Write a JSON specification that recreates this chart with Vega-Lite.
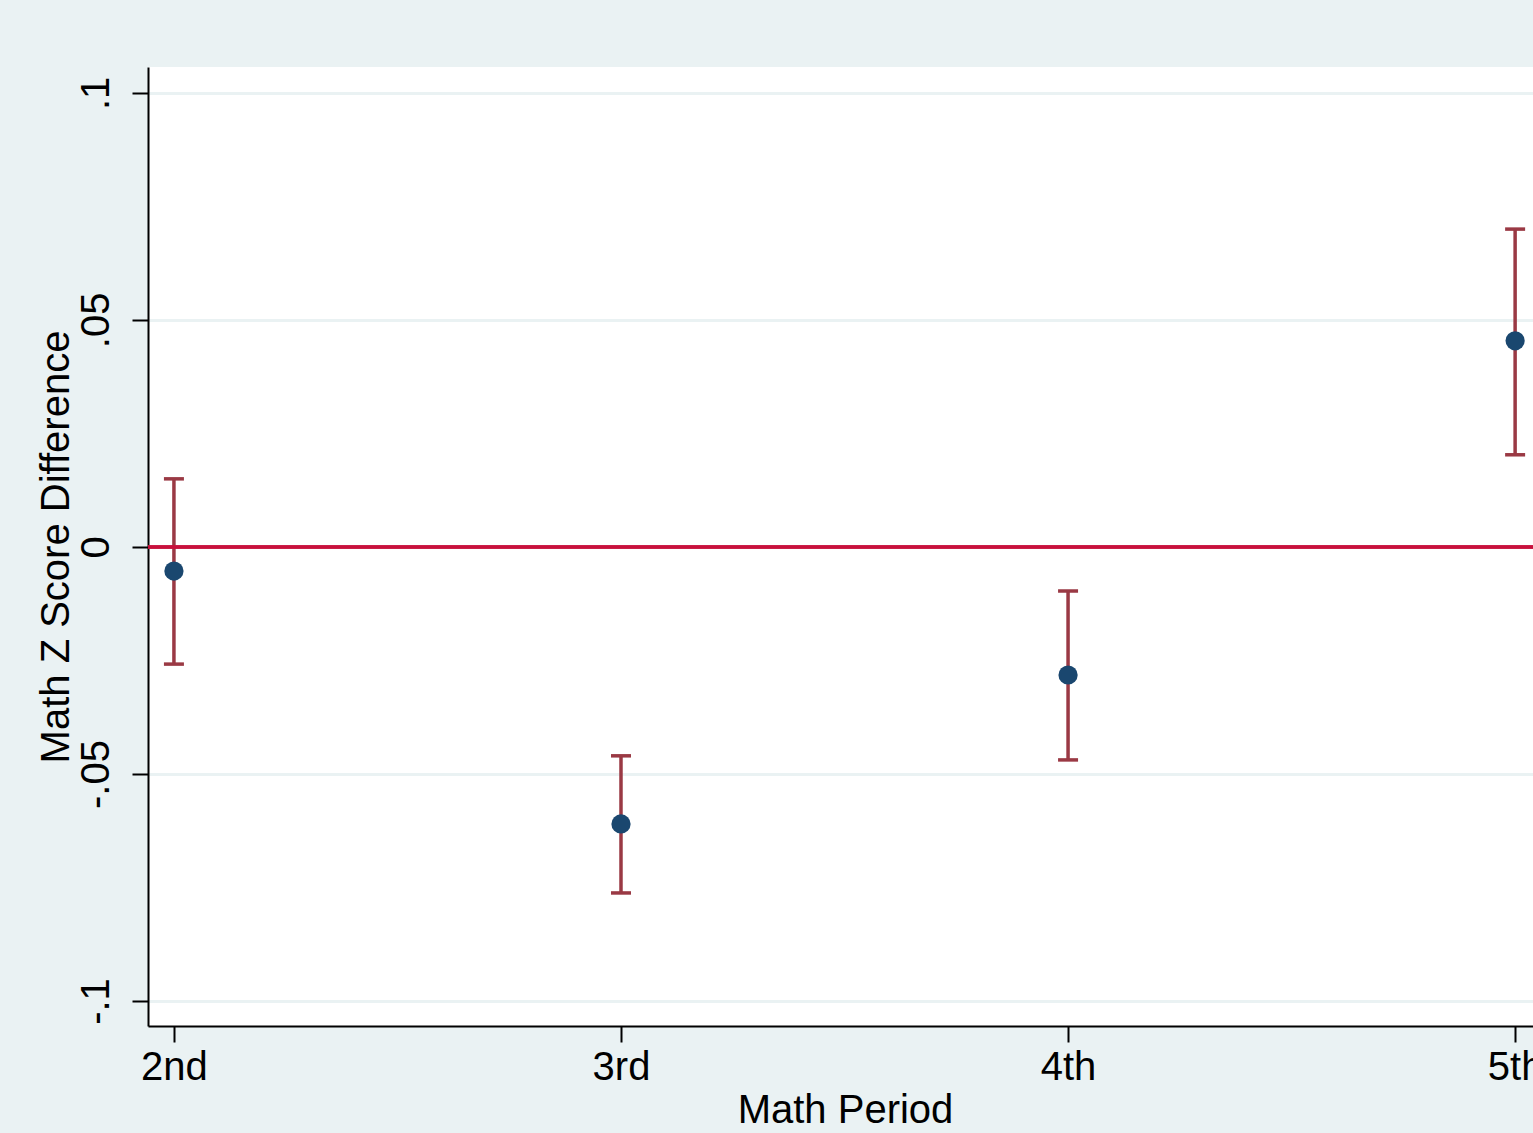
{
  "$schema": "https://vega.github.io/schema/vega-lite/v6.json",
  "autosize": {"type": "none"},
  "padding": {"left": 148, "top": 67, "right": 0, "bottom": 107},
  "width": 1385,
  "height": 959,
  "background": "#EAF2F3",
  "config": {
    "view": {"fill": "white", "stroke": null},
    "font": "Liberation Sans",
    "axis": {
      "labelFont": "Liberation Sans",
      "titleFont": "Liberation Sans",
      "labelFontSize": 40,
      "titleFontSize": 40,
      "labelColor": "black",
      "titleColor": "black",
      "titleFontWeight": "normal",
      "domainColor": "black",
      "domainWidth": 2,
      "tickColor": "black",
      "tickWidth": 2,
      "tickSize": 16
    }
  },
  "data": {
    "values": [
      {"period": 1, "est": -0.0053, "lo": -0.0258, "hi": 0.0150},
      {"period": 2, "est": -0.0610, "lo": -0.0762, "hi": -0.0460},
      {"period": 3, "est": -0.0282, "lo": -0.0469, "hi": -0.0097},
      {"period": 4, "est": 0.0454, "lo": 0.0203, "hi": 0.0700}
    ]
  },
  "encoding": {
    "x": {
      "field": "period",
      "type": "quantitative",
      "scale": {"domain": [0.942, 4.04], "nice": false, "zero": false},
      "axis": {
        "title": "Math Period",
        "values": [1, 2, 3, 4],
        "labelExpr": "datum.value == 1 ? '2nd' : datum.value == 2 ? '3rd' : datum.value == 3 ? '4th' : '5th'",
        "grid": false,
        "labelPadding": 5,
        "labelFlush": false,
        "labelOverlap": false,
        "titlePadding": 3,
        "titleX": 697
      }
    }
  },
  "layer": [
    {
      "mark": {"type": "rule", "color": "#9A3944", "strokeWidth": 3.5},
      "encoding": {
        "y": {
          "field": "lo",
          "type": "quantitative",
          "title": "Math Z Score Difference",
          "scale": {"domain": [-0.1055, 0.1057], "nice": false, "zero": false},
          "axis": {
            "title": "Math Z Score Difference",
            "values": [-0.1, -0.05, 0, 0.05, 0.1],
            "labelExpr": "datum.value > 0.07 ? '.1' : datum.value > 0.02 ? '.05' : datum.value > -0.02 ? '0' : datum.value > -0.07 ? '-.05' : '-.1'",
            "grid": true,
            "gridColor": "#EAF2F3",
            "gridWidth": 3,
            "labelAngle": -90,
            "labelAlign": "center",
            "labelBaseline": "bottom",
            "labelPadding": 16,
            "titlePadding": 0
          }
        },
        "y2": {"field": "hi"}
      }
    },
    {
      "mark": {"type": "tick", "orient": "horizontal", "color": "#9A3944", "size": 20, "thickness": 3.5, "opacity": 1},
      "encoding": {
        "y": {"field": "lo", "type": "quantitative", "title": "Math Z Score Difference"}
      }
    },
    {
      "mark": {"type": "tick", "orient": "horizontal", "color": "#9A3944", "size": 20, "thickness": 3.5, "opacity": 1},
      "encoding": {
        "y": {"field": "hi", "type": "quantitative", "title": "Math Z Score Difference"}
      }
    },
    {
      "mark": {"type": "rule", "color": "#C8103C", "strokeWidth": 3},
      "encoding": {
        "y": {"datum": 0, "type": "quantitative", "title": "Math Z Score Difference"},
        "x": {"value": 0},
        "x2": {"value": 1385}
      }
    },
    {
      "mark": {"type": "circle", "color": "#1A476F", "opacity": 1, "size": 370},
      "encoding": {
        "y": {"field": "est", "type": "quantitative", "title": "Math Z Score Difference"}
      }
    }
  ]
}
